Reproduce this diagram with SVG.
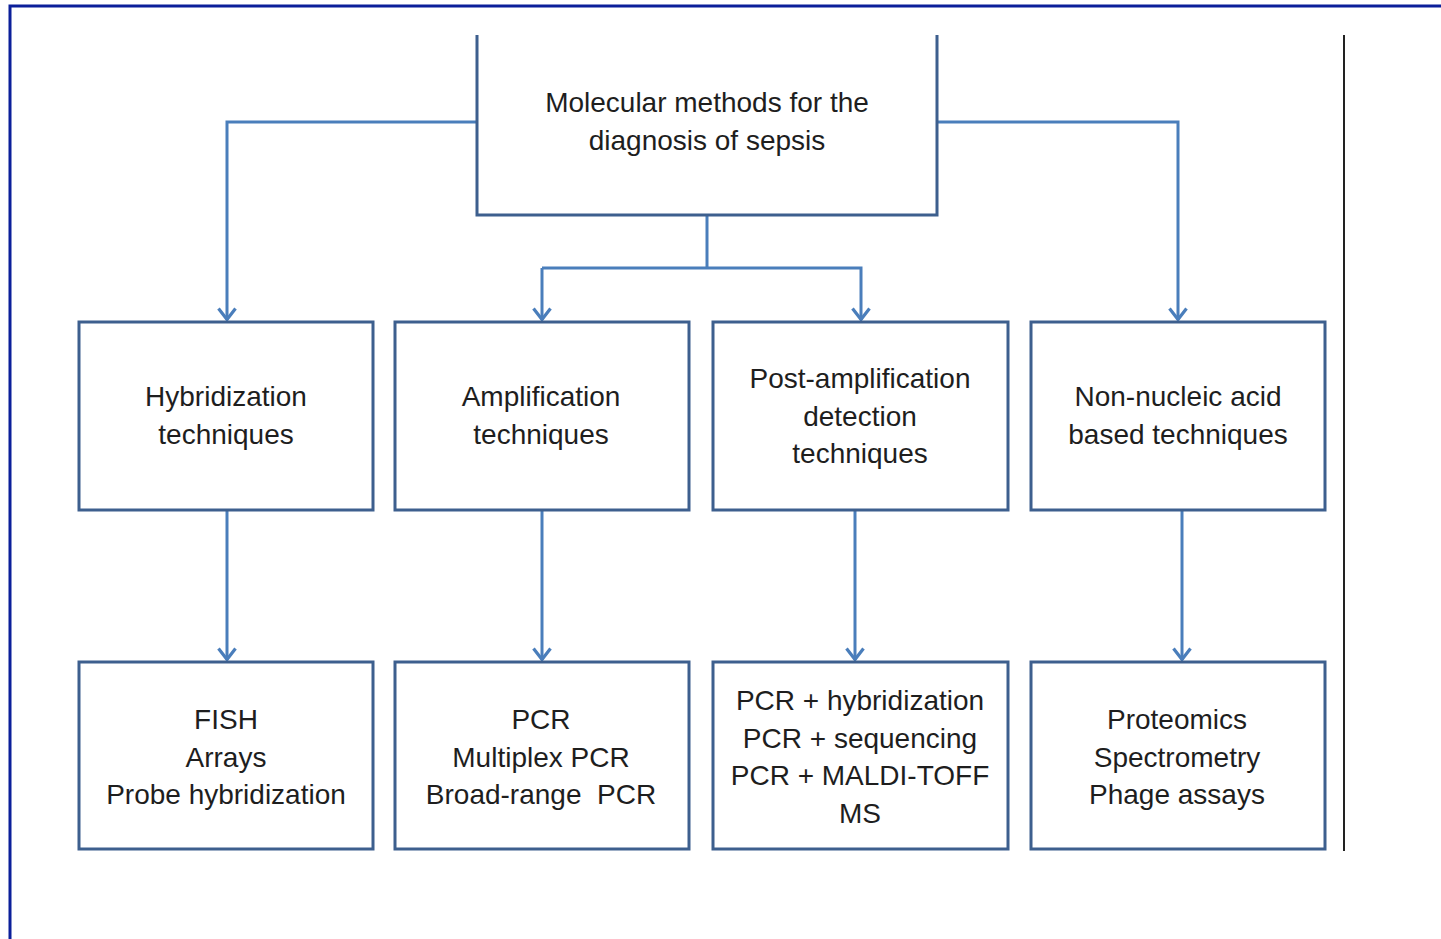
<svg xmlns="http://www.w3.org/2000/svg" width="1441" height="939" viewBox="0 0 1441 939">
<defs>
<marker id="arr" viewBox="0 0 14 20" refX="13" refY="10" markerWidth="14" markerHeight="20" markerUnits="userSpaceOnUse" orient="auto">
<path d="M1.5,1.5 L12.5,10 L1.5,18.5" fill="none" stroke="#4a7ebb" stroke-width="3.2"/>
</marker>
<style>
.box{fill:#fff;stroke:#3d5f8e;stroke-width:3}
.con{fill:none;stroke:#4a7ebb;stroke-width:3}
.arrow{marker-end:url(#arr)}
text{font-family:"Liberation Sans",Arial,sans-serif;font-size:28px;fill:#1e1e1e;text-anchor:middle}
</style>
</defs>
<rect width="1441" height="939" fill="#fff"/>
<path d="M10,939 V6 H1441" fill="none" stroke="#0b1f9a" stroke-width="3"/>
<line x1="1344" y1="35" x2="1344" y2="851" stroke="#222" stroke-width="2"/>

<g id="connectors">
<path class="con arrow" d="M477,122 H227 V320"/>
<path class="con arrow" d="M937,122 H1178 V320"/>
<path class="con" d="M707,215 V268"/>
<path class="con arrow" d="M542,268 V320"/>
<path class="con arrow" d="M707,268 H861 V320"/>
<path class="con" d="M542,268 H707"/>
<path class="con arrow" d="M227,510 V660"/>
<path class="con arrow" d="M542,510 V660"/>
<path class="con arrow" d="M855,510 V660"/>
<path class="con arrow" d="M1182,510 V660"/>
</g>

<g id="root">
<path class="box" d="M477,35 V215 H937 V35"/>
<text x="707" y="112">Molecular methods for the</text>
<text x="707" y="150">diagnosis of sepsis</text>
</g>

<g id="hyb">
<rect class="box" x="79" y="322" width="294" height="188"/>
<text x="226" y="406">Hybridization</text>
<text x="226" y="444">techniques</text>
</g>
<g id="amp">
<rect class="box" x="395" y="322" width="294" height="188"/>
<text x="541" y="406">Amplification</text>
<text x="541" y="444">techniques</text>
</g>
<g id="post">
<rect class="box" x="713" y="322" width="295" height="188"/>
<text x="860" y="388">Post-amplification</text>
<text x="860" y="426">detection</text>
<text x="860" y="463">techniques</text>
</g>
<g id="nonnuc">
<rect class="box" x="1031" y="322" width="294" height="188"/>
<text x="1178" y="406">Non-nucleic acid</text>
<text x="1178" y="444">based techniques</text>
</g>

<g id="fish">
<rect class="box" x="79" y="662" width="294" height="187"/>
<text x="226" y="729">FISH</text>
<text x="226" y="767">Arrays</text>
<text x="226" y="804">Probe hybridization</text>
</g>
<g id="pcr">
<rect class="box" x="395" y="662" width="294" height="187"/>
<text x="541" y="729">PCR</text>
<text x="541" y="767">Multiplex PCR</text>
<text x="541" y="804" style="white-space:pre">Broad-range  PCR</text>
</g>
<g id="pcrplus">
<rect class="box" x="713" y="662" width="295" height="187"/>
<text x="860" y="710">PCR + hybridization</text>
<text x="860" y="748">PCR + sequencing</text>
<text x="860" y="785">PCR + MALDI-TOFF</text>
<text x="860" y="823">MS</text>
</g>
<g id="prot">
<rect class="box" x="1031" y="662" width="294" height="187"/>
<text x="1177" y="729">Proteomics</text>
<text x="1177" y="767">Spectrometry</text>
<text x="1177" y="804">Phage assays</text>
</g>
</svg>
